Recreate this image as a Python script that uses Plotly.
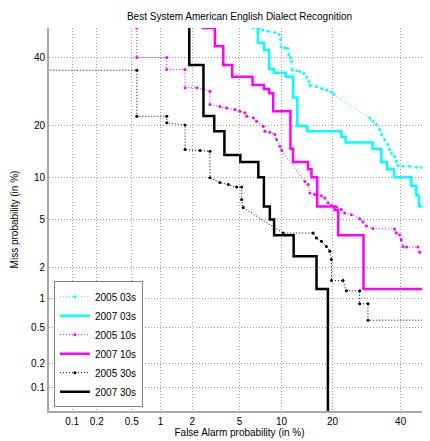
import plotly.graph_objects as go
from statistics import NormalDist

# ---- data (percent) ----
tick_vals_pct = [0.1, 0.2, 0.5, 1, 2, 5, 10, 20, 40]
tick_labels = ["0.1", "0.2", "0.5", "1", "2", "5", "10", "20", "40"]

# 2005 03s (dotted)
fa_2005_03 = [6.34, 6.97, 7.44, 8.11, 9.01, 9.63, 9.84, 9.93, 10.49, 10.97, 11.13, 11.39, 11.59, 11.72,
              12.50, 13.04, 13.78, 14.37, 14.77, 15.06, 16.34, 17.49, 18.63, 19.73, 20.29, 30.12, 31.11,
              32.16, 33.19, 33.81, 34.76, 35.82, 36.37, 37.02, 38.0, 38.56, 39.09, 40.75, 43.0, 45.29,
              47.1, 47.96, 48.7, 49.33, 49.85]
miss_2005_03 = [50, 49.84, 49.33, 48.9, 48.47, 47.79, 46.08, 43.7, 43.2, 43.1, 41.0, 40.0, 38.68, 35.91,
                35.65, 35.43, 34.79, 33.69, 32.29, 31.06, 30.76, 30.16, 29.71, 29.12, 28.38, 21.96, 21.16,
                20.36, 19.16, 18.0, 16.89, 15.84, 14.81, 14.03, 13.47, 12.61, 11.86, 11.78, 11.74, 11.64,
                11.53, 11.2, 10.66, 9.94, 9.35]

# 2007 03s (solid, step)
fa_2007_03 = [6.86, 6.86, 7.57, 8.24, 8.87, 10.66, 11.86, 12.59, 14.46, 22.2, 23.3, 31.0, 33.7, 35.5,
              37.8, 43.6, 45.3, 46.2, 50]
miss_2007_03 = [70, 45, 42.5, 36.25, 35, 33.75, 27.5, 20, 18.75, 17.5, 16.25, 15, 12.5, 11.25, 10,
                8.75, 7.5, 6.25, 6.25]

# 2005 10s (dotted)
fa_2005_10 = [0.567, 0.567, 1.15, 1.15, 1.72, 1.72, 2.21, 2.51, 2.87, 2.87, 3.48, 3.95, 4.60, 5.03, 5.49,
              5.66, 6.34, 6.71, 7.48, 7.69, 8.33, 9.01, 9.26, 9.74, 10.03, 13.98, 14.62, 14.96, 15.98,
              17.43, 18.17, 18.93, 19.73, 20.95, 22.2, 23.06, 24.86, 27.18, 28.14, 29.14, 31.11, 38.0,
              38.56, 39.65, 40.21, 40.75, 41.99, 45.83, 46.41, 49.85]
miss_2005_10 = [50, 40, 40, 36.07, 36.07, 30.37, 30.37, 29.86, 29.35, 25.55, 25.0, 24.59, 24.18, 23.73,
                23.31, 22.42, 22.01, 21.16, 19.94, 18.75, 18.52, 18.0, 16.89, 15.48, 14.62, 9.35, 8.93,
                7.83, 7.62, 7.49, 7.22, 6.65, 6.35, 6.2, 5.94, 5.61, 5.44, 5.07, 4.77, 4.44, 4.24, 4.2,
                3.91, 3.76, 3.45, 3.03, 2.99, 2.99, 2.70, 2.66]

# 2007 10s (solid, step)
fa_2007_10 = [2.5, 2.5, 3.16, 3.71, 4.38, 6.27, 7.57, 8.24, 8.78, 11.4, 11.85, 14.6, 15.3, 16.5, 20.5,
              21.4, 28.3, 50]
miss_2007_10 = [70, 50, 43.75, 37.5, 33.75, 31.25, 30, 28.75, 23.75, 15, 12.5, 11.25, 10, 6.25, 5.9,
                3.75, 1.25, 1.25]

# 2005 30s (dotted)
fa_2005_30 = [0.01, 0.567, 0.567, 1.15, 1.15, 1.72, 1.72, 2.35, 2.87, 2.87, 3.48, 4.07, 4.74, 5.19, 5.19,
              5.33, 10.23, 15.63, 16.34, 17.43, 18.56, 19.33, 19.73, 19.73, 22.63, 23.52, 27.18, 27.18,
              29.61, 29.61, 49.85]
miss_2005_30 = [35.85, 35.85, 22.42, 22.42, 20.76, 20.22, 14.81, 14.62, 14.48, 9.9, 9.21, 8.93, 8.58,
                8.58, 7.02, 6.14, 3.91, 3.91, 3.56, 3.34, 3.03, 2.75, 2.33, 1.50, 1.50, 1.20, 1.20,
                0.893, 0.893, 0.603, 0.603]

# 2007 30s (solid, step)
fa_2007_30 = [1.88, 1.88, 2.52, 3.12, 3.79, 5.07, 6.91, 7.57, 8.33, 8.91, 11.95, 16.35, 18.9]
miss_2007_30 = [70, 37.5, 22.5, 18.75, 13.75, 12.5, 10, 6.25, 5, 3.75, 2.5, 1.25, 0.001]

# ---- probit transform (normal deviate scale) ----
nd = NormalDist()


def probit(vals):
    return [nd.inv_cdf(v / 100.0) for v in vals]


lo = nd.inv_cdf(0.0005)
hi = 0.0

FONT = "Liberation Sans, Arial, sans-serif"
CYAN = "#00ffff"
MAGENTA = "#ff00ff"
BLACK = "#000000"

fig = go.Figure()


def dotted(name, fa, miss, color):
    fig.add_trace(go.Scatter(
        x=probit(fa), y=probit(miss), name=name, mode="lines+markers",
        line=dict(color=color, width=1, dash="1px,2px"),
        marker=dict(color=color, size=3, symbol="circle"),
    ))


def solid(name, fa, miss, color):
    fig.add_trace(go.Scatter(
        x=probit(fa), y=probit(miss), name=name, mode="lines",
        line=dict(color=color, width=2.5, shape="hv"),
    ))


dotted("2005 03s", fa_2005_03, miss_2005_03, CYAN)
solid("2007 03s", fa_2007_03, miss_2007_03, CYAN)
dotted("2005 10s", fa_2005_10, miss_2005_10, MAGENTA)
solid("2007 10s", fa_2007_10, miss_2007_10, MAGENTA)
dotted("2005 30s", fa_2005_30, miss_2005_30, BLACK)
solid("2007 30s", fa_2007_30, miss_2007_30, BLACK)

axis_common = dict(
    range=[lo, hi], tickmode="array", tickvals=probit(tick_vals_pct), ticktext=tick_labels,
    showgrid=True, gridcolor="#a0a0a0", griddash="1px,2px", gridwidth=1,
    zeroline=False, showline=True, linecolor="#a8a8a8", linewidth=2, mirror=False,
    ticks="", tickfont=dict(family=FONT, size=10, color="#000"), automargin=False,
)

# the page adds an 8px body margin, so the figure is sized 8px smaller
fig.update_layout(
    width=422, height=433,
    margin=dict(l=41, r=0, t=20, b=30),
    paper_bgcolor="white", plot_bgcolor="white",
    font=dict(family=FONT, size=10, color="#000"),
    title=dict(text="Best System American English Dialect Recognition",
               x=0.5, xref="paper", y=1 - 8 / 433, yref="container", yanchor="middle",
               font=dict(family=FONT, size=10, color="#000")),
    xaxis=dict(title=dict(text="False Alarm probability (in %)", standoff=2,
                          font=dict(family=FONT, size=10)), **axis_common),
    yaxis=dict(title=dict(text="Miss probability (in %)", standoff=11,
                          font=dict(family=FONT, size=10)), **axis_common),
    legend=dict(x=0.013, y=0.01, xanchor="left", yanchor="bottom",
                bgcolor="white", bordercolor="#808080", borderwidth=1,
                font=dict(family=FONT, size=10), itemwidth=30, tracegroupgap=0),
    showlegend=True,
)

fig.write_html("out.html")
